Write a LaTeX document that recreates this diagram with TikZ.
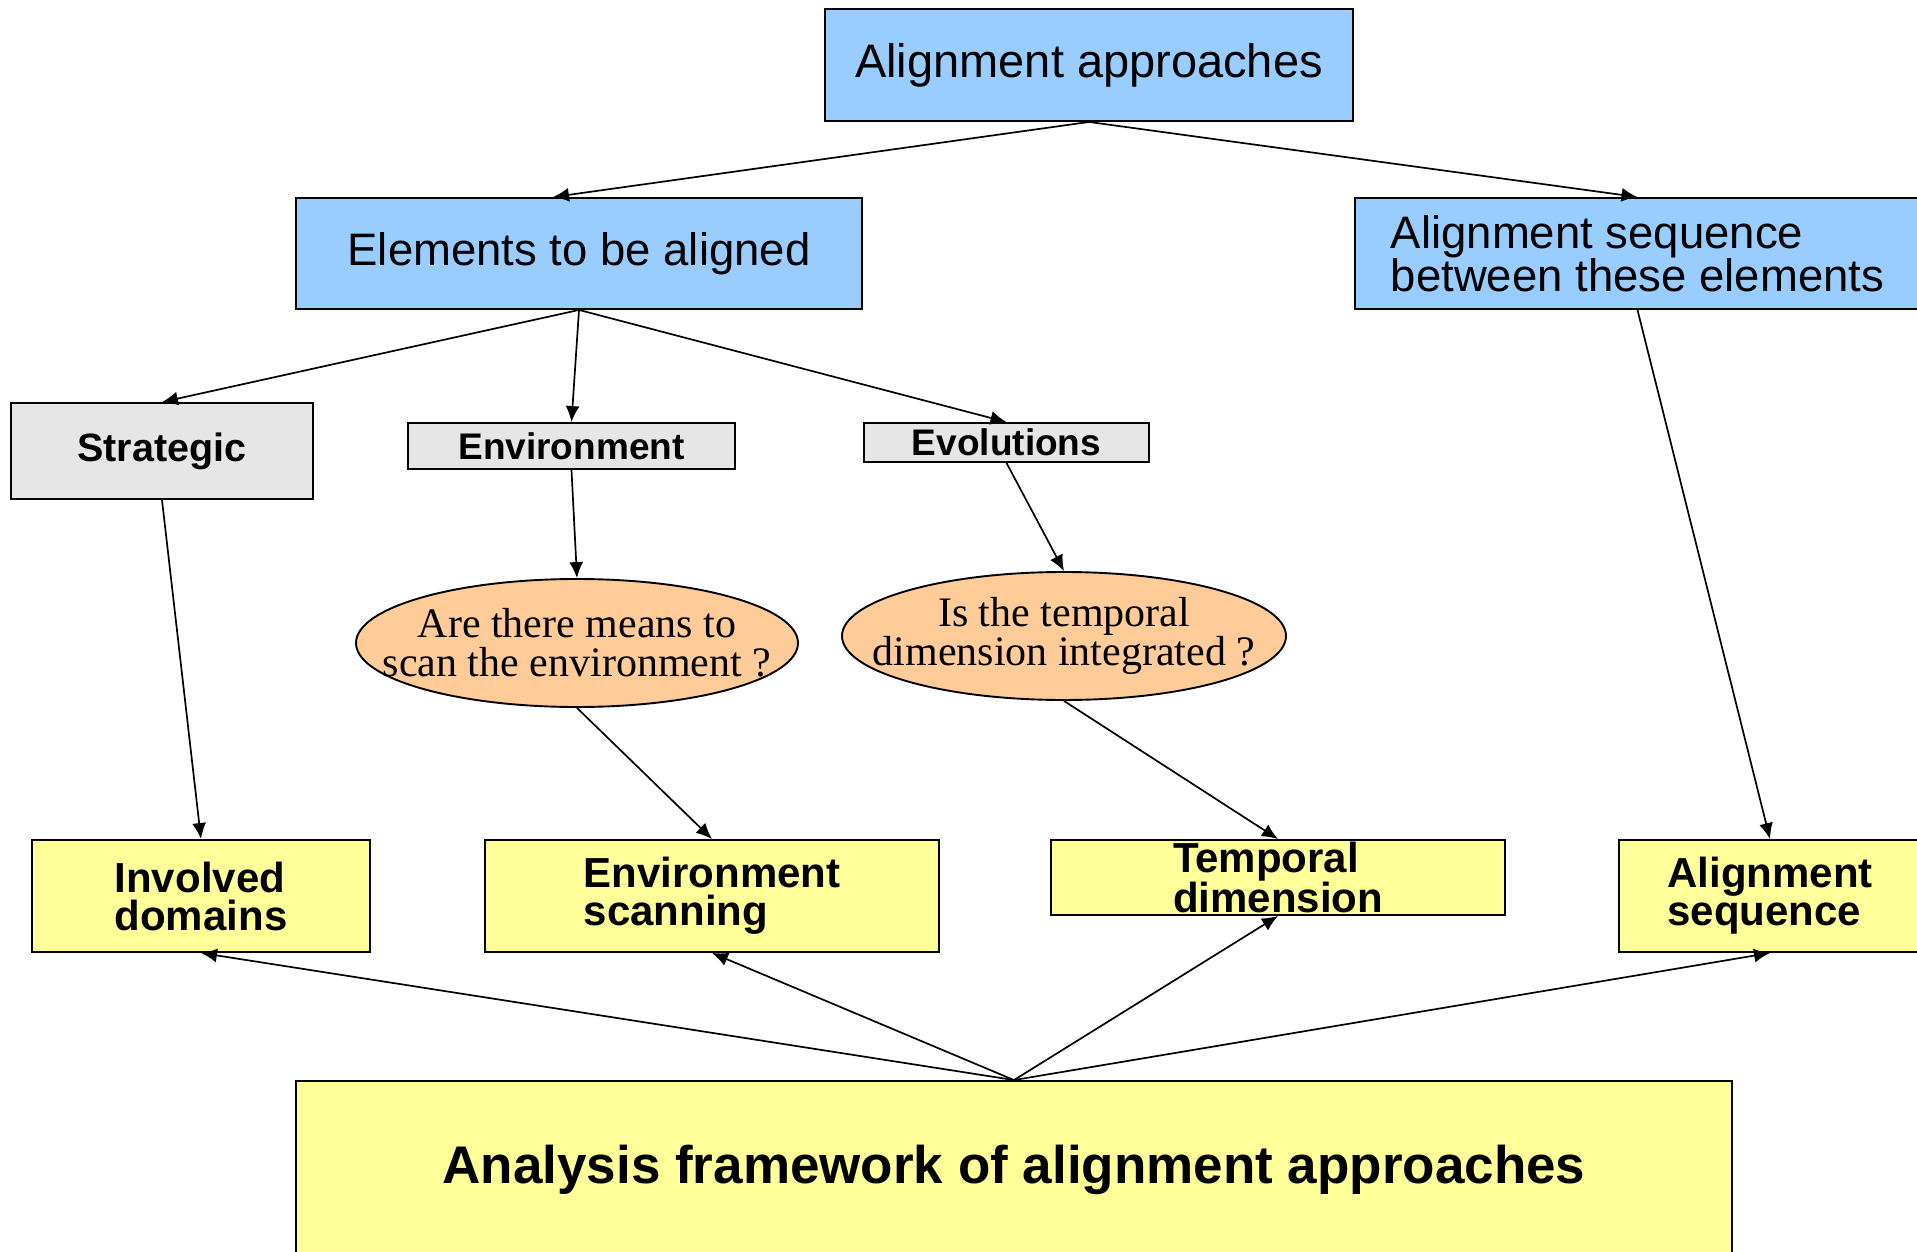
\documentclass[tikz,border=0pt]{standalone}
\usepackage{fontspec}
\setmainfont{Liberation Serif}
\setsansfont{Liberation Sans}
\usetikzlibrary{shapes.geometric,arrows.meta,calc}

\definecolor{approachblue}{HTML}{99CCFF}
\definecolor{aspectgray}{HTML}{E6E6E6}
\definecolor{questionorange}{HTML}{FFCC99}
\definecolor{criterionyellow}{HTML}{FFFF99}

\begin{document}
\begin{tikzpicture}[
  x={(1pt,0pt)},
  y={(0pt,-1pt)},
  box/.style={draw=black,line width=1.9pt,inner sep=0pt,align=left},
  approach/.style={box,fill=approachblue,font=\sffamily\fontsize{45.5}{40}\selectfont},
  aspect/.style={box,fill=aspectgray,font=\sffamily\bfseries\fontsize{37}{37}\selectfont},
  question/.style={ellipse,draw=black,line width=1.9pt,fill=questionorange,inner sep=0pt},
  questiontext/.style={inner sep=0pt,align=center,font=\rmfamily\fontsize{42}{39}\selectfont},
  criterion/.style={box,fill=criterionyellow,font=\sffamily\bfseries\fontsize{42}{38}\selectfont},
  link/.style={draw=black,line width=1.7pt,-{Latex[length=16pt,width=14pt]}}
]
  % Page frame; the right and bottom boxes run past it.
  \useasboundingbox (0,0) rectangle (1917,1252);
  \clip (0,0) rectangle (1917,1252);

  % Alignment approaches and their two parts.
  \node[approach,font=\sffamily\fontsize{47}{40}\selectfont,minimum width=528pt,minimum height=112pt] (approaches) at (1089,65) {Alignment approaches};
  \node[approach,minimum width=566pt,minimum height=111pt] (elements) at (579,253.5) {Elements to be aligned};
  \node[approach,minimum width=565pt,minimum height=111pt] (sequence) at (1637.5,253.5) {Alignment sequence\\between these elements};

  % Elements to be aligned.
  \node[aspect,font=\sffamily\bfseries\fontsize{39.5}{39}\selectfont,minimum width=302pt,minimum height=96pt] (strategic) at (162,451) {Strategic};
  \node[aspect,minimum width=327pt,minimum height=46pt] (environment) at (571.5,446) {Environment};
  \node[aspect,minimum width=285pt,minimum height=39pt] (evolutions) at (1006.5,442.5) {Evolutions};

  % Questions.
  \node[question,minimum width=442pt,minimum height=128pt,
    label={[questiontext]center:{Are there means to\\scan the environment ?}}] (scanq) at (577,643) {};
  \node[question,minimum width=444pt,minimum height=128pt,
    label={[questiontext]center:{Is the temporal\\dimension integrated ?}}] (temporalq) at (1064,636) {};

  % Criteria of the framework.
  \node[criterion,minimum width=338pt,minimum height=112pt] (domains) at (201,896) {Involved\\domains};
  \node[criterion,minimum width=454pt,minimum height=112pt] (scanning) at (712,896) {Environment\\scanning};
  \node[criterion,minimum width=454pt,minimum height=75pt] (temporal) at (1278,877.5) {Temporal\\dimension};
  \node[criterion,minimum width=302pt,minimum height=112pt] (alignseq) at (1770,896) {Alignment\\sequence};

  \node[box,fill=criterionyellow,font=\sffamily\bfseries\fontsize{53}{53}\selectfont,
    minimum width=1436pt,minimum height=178pt] (framework) at (1014,1170) {Analysis framework of alignment approaches};

  % Connectors.
  \draw[link] (approaches.south) -- ($(elements.north)+(-26,0)$);
  \draw[link] (approaches.south) -- (sequence.north);

  \draw[link] (elements.south) -- (strategic.north);
  \draw[link] (elements.south) -- (environment.north);
  \draw[link] (elements.south) -- (evolutions.north);

  \draw[link] (strategic.south) -- (domains.north);
  \draw[link] (environment.south) -- (scanq.north);
  \draw[link] (evolutions.south) -- (temporalq.north);
  \draw[link] (scanq.south) -- (scanning.north);
  \draw[link] (temporalq.south) -- (temporal.north);
  \draw[link] (sequence.south) -- (alignseq.north);

  \foreach \c in {domains,scanning,temporal,alignseq} {
    \draw[link] (framework.north) -- (\c.south);
  }
\end{tikzpicture}
\end{document}
